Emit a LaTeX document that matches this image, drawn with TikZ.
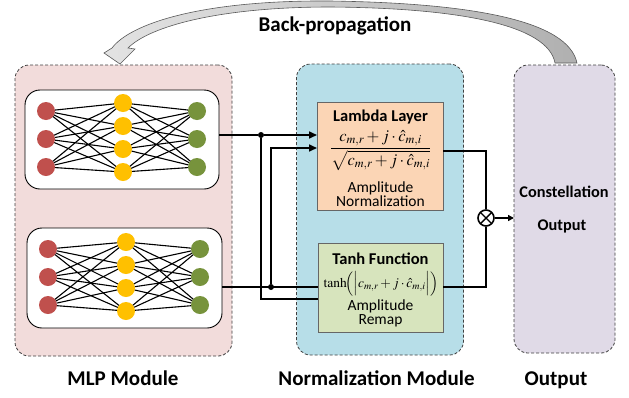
\documentclass[tikz,border=0pt]{standalone}
\usepackage{mathptmx}
\usepackage{fontspec}
\setmainfont{Carlito}
\usetikzlibrary{arrows.meta}
\definecolor{mlpbg}{HTML}{F2DCDB}
\definecolor{normbg}{HTML}{B7DEE8}
\definecolor{outbg}{HTML}{E0DAE7}
\definecolor{lambg}{HTML}{FBD5B5}
\definecolor{tanbg}{HTML}{D7E4BD}
\definecolor{nred}{HTML}{C0504D}
\definecolor{nyel}{HTML}{FFC000}
\definecolor{ngrn}{HTML}{77933C}
\tikzset{
  modbox/.style={draw=black!75, dash pattern=on 3pt off 2pt, line width=0.8pt, rounded corners=14pt, inner sep=0pt, outer sep=0pt},
  netbox/.style={draw=black, fill=white, line width=0.9pt, rounded corners=15pt, inner sep=0pt, outer sep=0pt},
  funbox/.style={draw=black!60, line width=0.8pt, inner sep=0pt, outer sep=0pt},
  neuron/.style={circle, minimum size=18pt, inner sep=0pt, outer sep=0pt},
  netedge/.style={line width=1.1pt, black},
  conn/.style={line width=1.6pt, black},
  tip/.style={-{Triangle[length=8pt,width=7pt]}},
  jdot/.style={circle, fill=black, minimum size=6pt, inner sep=0pt},
  bigtxt/.style={font=\fontsize{21}{24}\selectfont\bfseries, inner sep=0pt},
  ttl/.style={font=\fontsize{16.5}{19}\selectfont\bfseries, inner sep=0pt},
  reg/.style={font=\fontsize{15.5}{18}\selectfont, inner sep=0pt},
  mth/.style={inner sep=0pt},
}
\begin{document}
\begin{tikzpicture}[x=1pt,y=-1pt]
\useasboundingbox (0,0) rectangle (629,397);

% back-propagation arrow
\shadedraw[left color=gray!22, right color=gray!62, draw=black!65, line width=0.6pt]
  (577,63) .. controls (568,20) and (470,3) .. (330,1)
  .. controls (200,0) and (130,24) .. (112,48)
  -- (104,53) -- (120,64) -- (135,49) -- (128,48)
  .. controls (150,26) and (220,7) .. (330,7)
  .. controls (460,8) and (548,25) .. (555,63) -- cycle;
\node[bigtxt, anchor=base] (bp) at (335,31) {Back-propagation};

% module boxes
\node[modbox, fill=mlpbg, minimum width=217pt, minimum height=291pt] (mlp) at (123.5,210.5) {};
\node[modbox, fill=normbg, minimum width=167pt, minimum height=291pt] (norm) at (380,209.5) {};
\node[modbox, fill=outbg, minimum width=101pt, minimum height=288pt] (out) at (564.5,209) {};

% network boxes
\node[netbox, minimum width=194pt, minimum height=99pt] (unet) at (122,139.5) {};
\node[netbox, minimum width=195pt, minimum height=100pt] (lnet) at (124.5,278) {};

% neurons
\foreach \n/\xr/\xy/\xg/\yr/\yy in {u/46/123/197/111/103, l/48/126/200/249/242}{
  \foreach \i in {1,2,3}{
    \node[neuron, fill=nred] (\n-r\i) at (\xr,{\yr+28*(\i-1)}) {};
    \node[neuron, fill=ngrn] (\n-g\i) at (\xg,{\yr+28*(\i-1)}) {};
  }
  \foreach \j in {1,2,3,4}{
    \node[neuron, fill=nyel] (\n-y\j) at (\xy,{\yy+23*(\j-1)}) {};
  }
  \foreach \i in {1,2,3}{
    \foreach \j in {1,2,3,4}{
      \draw[netedge] (\n-r\i) -- (\n-y\j);
      \draw[netedge] (\n-y\j) -- (\n-g\i);
    }
  }
}

% function boxes
\node[funbox, fill=lambg, minimum width=126pt, minimum height=108pt] (lam) at (380,156) {};
\node[funbox, fill=tanbg, minimum width=125pt, minimum height=89pt] (tanh) at (380.5,287.5) {};

\node[ttl, anchor=base] (lamt) at (380.5,121) {Lambda Layer};
\node[mth, anchor=base, font=\fontsize{16.5}{19}\selectfont] (lamf) at (380.5,152.5) {$\displaystyle\frac{c_{m,r}+j\cdot\hat{c}_{m,i}}{\sqrt{c_{m,r}+j\cdot\hat{c}_{m,i}}}$};
\node[reg, anchor=base] (lama) at (380.5,192) {Amplitude};
\node[reg, anchor=base] (lamn) at (380.5,206) {Normalization};

\node[ttl, anchor=base] (tant) at (380.5,264) {Tanh Function};
\node[mth, anchor=base, font=\fontsize{13.5}{16}\selectfont] (tanf) at (381,287) {$\tanh\!\Bigl(\Bigl|c_{m,r}+j\cdot\hat{c}_{m,i}\Bigr|\Bigr)$};
\node[reg, anchor=base] (tana) at (380.5,310) {Amplitude};
\node[reg, anchor=base] (tanr) at (380.5,324) {Remap};

% output text
\node[font=\fontsize{16.3}{19}\selectfont\bfseries, anchor=base] (cons) at (564,197) {Constellation};
\node[font=\fontsize{16.3}{19}\selectfont\bfseries, anchor=base] (cout) at (562,230) {Output};

% connectors
\node[jdot] (j1) at (261,135) {};
\node[jdot] (j2) at (271,287) {};
\coordinate (a2) at (317,148);
\coordinate (b2) at (318,299);
\coordinate (lo) at (443,151);
\coordinate (to) at (443,287);
\draw[conn] (unet.east |- j1) -- (j1);
\draw[conn, tip] (j1) -- (lam.west |- j1);
\draw[conn] (lnet.east |- j2) -- (tanh.west |- j2);
\draw[conn, tip] (j2) |- (a2);
\draw[conn] (j1) |- (b2);

\node[circle, draw=black, line width=1.6pt, fill=white, minimum size=16pt, inner sep=0pt,
  path picture={\draw[line width=1.4pt] (path picture bounding box.north west) -- (path picture bounding box.south east)
  (path picture bounding box.north east) -- (path picture bounding box.south west);}] (mul) at (486,218) {};
\draw[conn] (lo) -| (mul);
\draw[conn] (to) -| (mul);
\draw[conn, -{Triangle[length=6pt,width=6pt]}] (mul) -- (out.west |- mul);

% bottom labels
\node[bigtxt, anchor=base] (lmlp) at (123,385) {MLP Module};
\node[bigtxt, anchor=base] (lnorm) at (376.5,385) {Normalization Module};
\node[bigtxt, anchor=base] (lout) at (556,385) {Output};
\end{tikzpicture}
\end{document}
